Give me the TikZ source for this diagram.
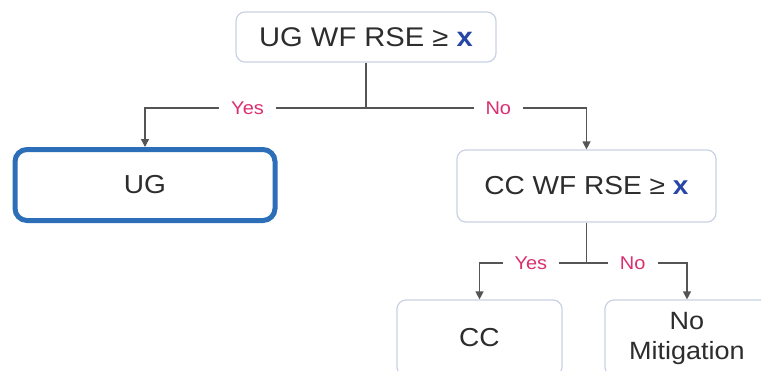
\documentclass[tikz,border=0pt]{standalone}
\usepackage{fontspec}
\setmainfont[FakeStretch=1.08]{Liberation Sans}
\usetikzlibrary{arrows.meta}
\definecolor{txt}{RGB}{45,45,45}
\definecolor{boxline}{RGB}{200,210,228}
\definecolor{ugblue}{RGB}{45,110,185}
\definecolor{xblue}{RGB}{40,70,165}
\definecolor{pinklab}{RGB}{218,48,112}
\definecolor{wire}{RGB}{85,85,85}
\tikzset{
  decision/.style={draw=boxline, line width=1.2pt, rounded corners=9pt, fill=white,
    text=txt, align=center, inner sep=0pt},
  chosen/.style={draw=ugblue, line width=5pt, rounded corners=12pt, fill=white,
    text=txt, align=center, inner sep=0pt},
  wireline/.style={draw=wire, line width=1.3pt},
  arrowline/.style={wireline, -{Triangle[length=8pt,width=8pt]}},
  lab/.style={fill=white, text=pinklab, font=\fontsize{18.5}{20}\selectfont,
    inner xsep=12pt, inner ysep=2pt},
}
\newcommand{\xv}{\textcolor{xblue}{\textbf{x}}}
\begin{document}
\begin{tikzpicture}[x=1pt,y=-1pt]
\clip (0,0) rectangle (761,370);
\fill[white] (0,0) rectangle (761,370);

% boxes
\node[decision, minimum width=260pt, minimum height=50pt,
  font=\fontsize{27}{30}\selectfont] (top) at (366,37) {UG WF RSE ≥ \xv};
\node[chosen, minimum width=260pt, minimum height=71pt,
  font=\fontsize{26}{28}\selectfont] (ug) at (145,185) {UG};
\node[decision, minimum width=259pt, minimum height=72pt,
  font=\fontsize{26}{28}\selectfont] (cc1) at (586.5,186) {CC WF RSE ≥ \xv};
\node[decision, minimum width=165pt, minimum height=76pt,
  font=\fontsize{26}{30}\selectfont] (cc) at (479.5,338) {CC};
\node[decision, minimum width=164pt, minimum height=76pt,
  font=\fontsize{25}{30}\selectfont] (nm) at (687,338) {No\\Mitigation};

% first split
\coordinate (j1) at (366,108);
\draw[wireline] (top.south) -- (j1);
\draw[arrowline] (j1) -| node[lab, pos=0.268] {Yes} (ug.north);
\draw[arrowline] (j1) -| node[lab, pos=0.3] {No} (cc1.north);

% second split
\coordinate (j2) at (586.5,263);
\draw[wireline] (cc1.south) -- (j2);
\draw[arrowline] (j2) -| node[lab, pos=0.26] {Yes} (cc.north);
\draw[arrowline] (j2) -| node[lab, pos=0.23] {No} (nm.north);
\end{tikzpicture}
\end{document}
